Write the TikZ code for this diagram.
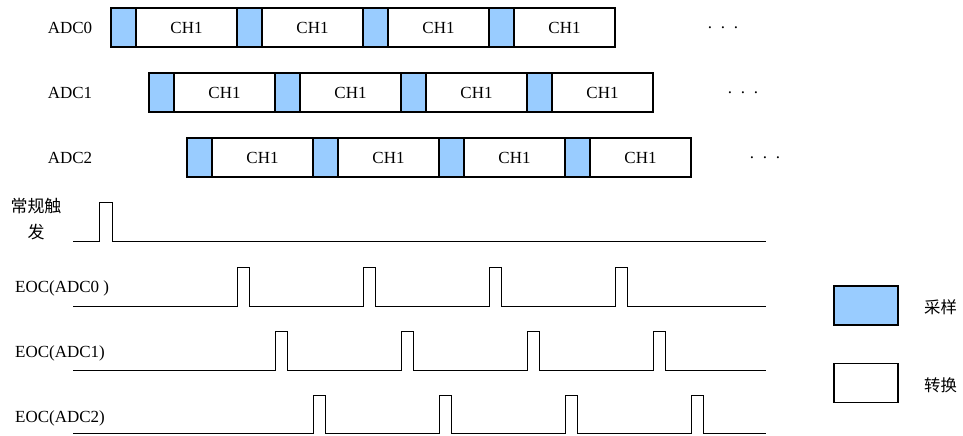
\documentclass[tikz,border=0pt]{standalone}
\usepackage{fontspec}
\setmainfont{Liberation Serif}
\newfontfamily\cjk{Noto Sans CJK SC}
\usepackage{xcolor}
\usepackage{tikz}
\usetikzlibrary{positioning}
\definecolor{lb}{RGB}{153,204,255}
\definecolor{zw}{RGB}{0,0,0}
\tikzset{
  sampbox/.style={draw=zw,line width=0.9pt,fill=lb,outer sep=0pt,inner sep=0pt,minimum width=7.5mm,minimum height=11.7mm},
  convbox/.style={draw=zw,line width=0.9pt,fill=white,outer sep=0pt,inner sep=0pt,minimum width=30.3mm,minimum height=11.7mm},
  wave/.style={draw=zw,line width=0.8pt,line join=miter}
}

\begin{document}
\begin{tikzpicture}[x=0.3mm,y=-0.3mm,font=\fontsize{14.5}{17}\selectfont]
  \useasboundingbox (0,0) rectangle (963,435);

  % ADC0
  \node at (70,27.5) (l0) {ADC0};
  \node[sampbox] (a0s1) at (123.5,27.5) {};
  \node[convbox,right=0pt of a0s1] (a0c1) {CH1};
  \node[sampbox,right=0pt of a0c1] (a0s2) {};
  \node[convbox,right=0pt of a0s2] (a0c2) {CH1};
  \node[sampbox,right=0pt of a0c2] (a0s3) {};
  \node[convbox,right=0pt of a0s3] (a0c3) {CH1};
  \node[sampbox,right=0pt of a0c3] (a0s4) {};
  \node[convbox,right=0pt of a0s4] (a0c4) {CH1};
  \node at (723,27.5) (d0) {.\hspace{2.6mm}.\hspace{2.6mm}.};

  % ADC1
  \node at (70,92.5) (l1) {ADC1};
  \node[sampbox] (a1s1) at (161.5,92.5) {};
  \node[convbox,right=0pt of a1s1] (a1c1) {CH1};
  \node[sampbox,right=0pt of a1c1] (a1s2) {};
  \node[convbox,right=0pt of a1s2] (a1c2) {CH1};
  \node[sampbox,right=0pt of a1c2] (a1s3) {};
  \node[convbox,right=0pt of a1s3] (a1c3) {CH1};
  \node[sampbox,right=0pt of a1c3] (a1s4) {};
  \node[convbox,right=0pt of a1s4] (a1c4) {CH1};
  \node at (743,92.5) (d1) {.\hspace{2.6mm}.\hspace{2.6mm}.};

  % ADC2
  \node at (70,157.5) (l2) {ADC2};
  \node[sampbox] (a2s1) at (199.5,157.5) {};
  \node[convbox,right=0pt of a2s1] (a2c1) {CH1};
  \node[sampbox,right=0pt of a2c1] (a2s2) {};
  \node[convbox,right=0pt of a2s2] (a2c2) {CH1};
  \node[sampbox,right=0pt of a2c2] (a2s3) {};
  \node[convbox,right=0pt of a2s3] (a2c3) {CH1};
  \node[sampbox,right=0pt of a2c3] (a2s4) {};
  \node[convbox,right=0pt of a2s4] (a2c4) {CH1};
  \node at (765,157.5) (d2) {.\hspace{2.6mm}.\hspace{2.6mm}.};

  % trigger + EOC
  \node[align=center,font=\cjk\fontsize{14.5}{22}\selectfont] at (36,219) (trg) {常规触\\发};
  \draw[wave] (73,241) -- (99,241) -- (99,202) -- (112,202) -- (112,241) -- (766,241);

  \node[anchor=west,inner sep=0pt] at (15,288) (e0) {EOC(ADC0 )};
  \draw[wave] (73,306) -- (237,306) -- (237,267) -- (249,267) -- (249,306)
    -- (363,306) -- (363,267) -- (375,267) -- (375,306)
    -- (489,306) -- (489,267) -- (501,267) -- (501,306)
    -- (615,306) -- (615,267) -- (627,267) -- (627,306) -- (766,306);

  \node[anchor=west,inner sep=0pt] at (15,353) (e1) {EOC(ADC1)};
  \draw[wave] (73,370) -- (275,370) -- (275,331) -- (287,331) -- (287,370)
    -- (401,370) -- (401,331) -- (413,331) -- (413,370)
    -- (527,370) -- (527,331) -- (539,331) -- (539,370)
    -- (653,370) -- (653,331) -- (665,331) -- (665,370) -- (766,370);

  \node[anchor=west,inner sep=0pt] at (15,418) (e2) {EOC(ADC2)};
  \draw[wave] (73,433.5) -- (313,433.5) -- (313,395) -- (325,395) -- (325,433.5)
    -- (439,433.5) -- (439,395) -- (451,395) -- (451,433.5)
    -- (565,433.5) -- (565,395) -- (577,395) -- (577,433.5)
    -- (691,433.5) -- (691,395) -- (703,395) -- (703,433.5) -- (766,433.5);

  % legend
  \node[sampbox,minimum width=19.2mm] (ks) at (866,305.5) {};
  \node[anchor=west,font=\cjk\fontsize{14}{17}\selectfont] at (920,307) (kst) {采样};
  \node[convbox,minimum width=19.2mm] (kc) at (866,383) {};
  \node[anchor=west,font=\cjk\fontsize{14}{17}\selectfont] at (920,385) (kct) {转换};
\end{tikzpicture}
\end{document}
